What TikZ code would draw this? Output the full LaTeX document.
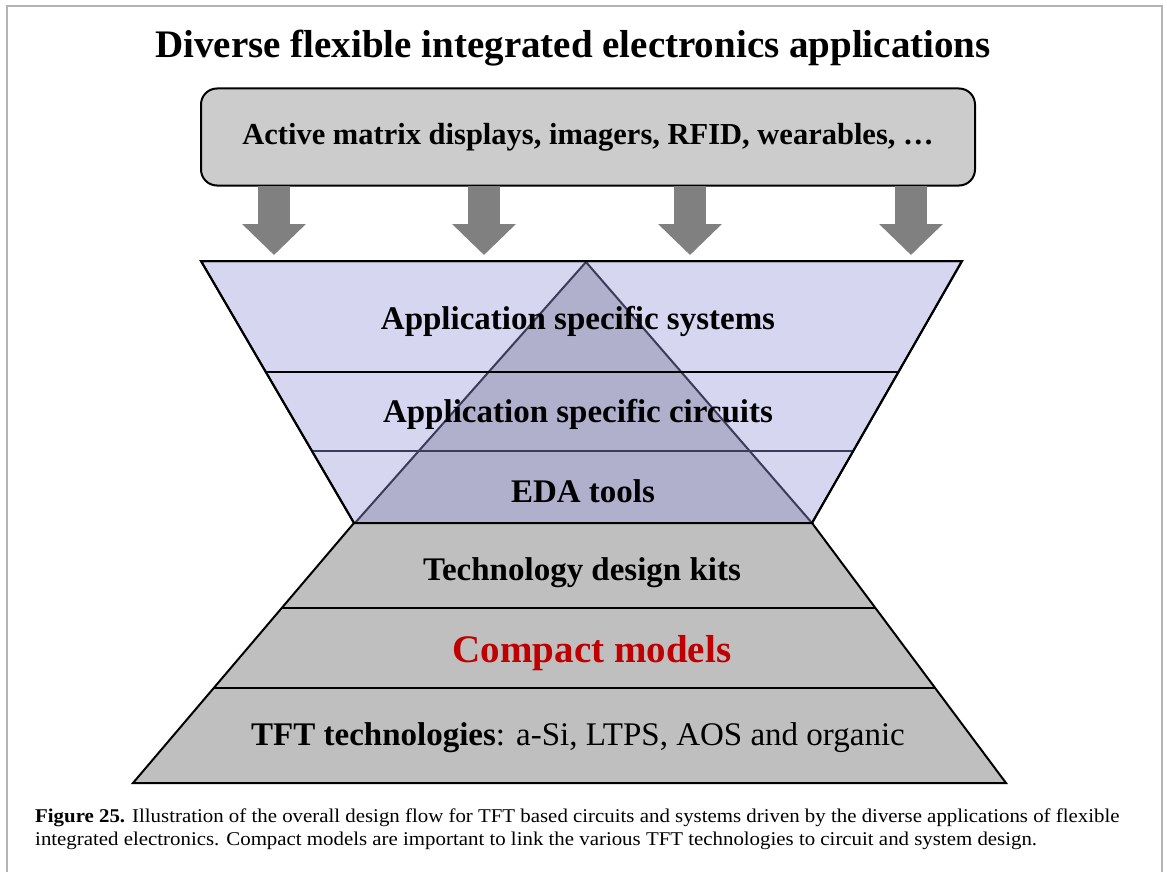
\documentclass[tikz,border=0pt]{standalone}
\usepackage{fontspec}
\setmainfont{Liberation Serif}
\newfontfamily\capfont[FakeStretch=1.07]{Liberation Serif}
\usetikzlibrary{arrows.meta}

\definecolor{boxgray}{HTML}{CCCCCC}
\definecolor{arrowgray}{HTML}{808080}
\definecolor{lavender}{HTML}{D6D6F0}
\definecolor{trifill}{HTML}{B0B0CC}
\definecolor{triedge}{HTML}{3C3C5A}
\definecolor{pyrgray}{HTML}{BFBFBF}
\definecolor{framegray}{HTML}{B4B4B4}
\definecolor{modelred}{HTML}{C00000}

\tikzset{
  appbox/.style={draw,line width=2pt,rounded corners=16pt,fill=boxgray,
    minimum width=774pt,minimum height=97pt},
  bigarrow/.style={arrowgray,line width=32pt,
    -{Triangle[width=62pt,length=31pt]}},
  level/.style={font=\fontsize{33}{37}\selectfont\bfseries},
}

\begin{document}
\begin{tikzpicture}[x=1pt,y=-1pt]
  \useasboundingbox (0,0) rectangle (1167,872);
  \draw[framegray,line width=1.5pt] (7,872) -- (7,6) -- (1162,6) -- (1162,872);

  \node (title) at (573,48) [font=\fontsize{39}{43}\selectfont\bfseries]
    {Diverse flexible integrated electronics applications};
  \node (apps) at (588,137) [appbox,font=\fontsize{30.5}{34}\selectfont\bfseries]
    {Active matrix displays, imagers, RFID, wearables, \ldots};

  % arrows from the applications box down to the funnel
  \coordinate (a1) at (274,186);
  \coordinate (b1) at (274,255);
  \coordinate (a2) at (484,186);
  \coordinate (b2) at (484,255);
  \coordinate (a3) at (690,186);
  \coordinate (b3) at (690,255);
  \coordinate (a4) at (911,186);
  \coordinate (b4) at (911,255);
  \draw[bigarrow] (a1) -- (b1);
  \draw[bigarrow] (a2) -- (b2);
  \draw[bigarrow] (a3) -- (b3);
  \draw[bigarrow] (a4) -- (b4);

  % funnel
  \draw[fill=lavender,line width=2pt] (201,261) -- (962,261) -- (812,523) -- (354,523) -- cycle;
  \draw[triedge,fill=trifill,line width=2pt] (586,262) -- (812,523) -- (355,523) -- cycle;
  \draw[line width=2pt] (266,372) -- (898,372);
  \draw[triedge,line width=1.5pt] (312,451) -- (853,451);
  \draw[line width=2pt] (201,261) -- (962,261) -- (812,523) -- (354,523) -- cycle;

  % pyramid
  \draw[fill=pyrgray,line width=2pt] (354,523) -- (812,523) -- (1006,783) -- (133,783) -- cycle;
  \draw[line width=2pt] (282,608) -- (876,608);
  \draw[line width=2pt] (214,688) -- (935,688);

  \node (systems) at (578,321) [level] {Application specific systems};
  \node (circuits) at (578,414) [level] {Application specific circuits};
  \node (eda) at (583,491) [level] {EDA tools};
  \node (kits) at (582,573) [level] {Technology design kits};
  \node (models) at (592,653) [level,font=\fontsize{39}{43}\selectfont\bfseries,text=modelred]
    {Compact models};
  \node (tft) at (578,738) [font=\fontsize{33}{37}\selectfont]
    {\textbf{TFT technologies}: a-Si, LTPS, AOS and organic};

  \node (caption) at (35,845) [anchor=base west,align=left,inner sep=0,
    font=\capfont\fontsize{19.5}{23}\selectfont]
    {\textbf{Figure 25.} Illustration of the overall design flow for TFT based circuits and systems driven by the diverse applications of flexible\\
     integrated electronics. Compact models are important to link the various TFT technologies to circuit and system design.};
\end{tikzpicture}
\end{document}
